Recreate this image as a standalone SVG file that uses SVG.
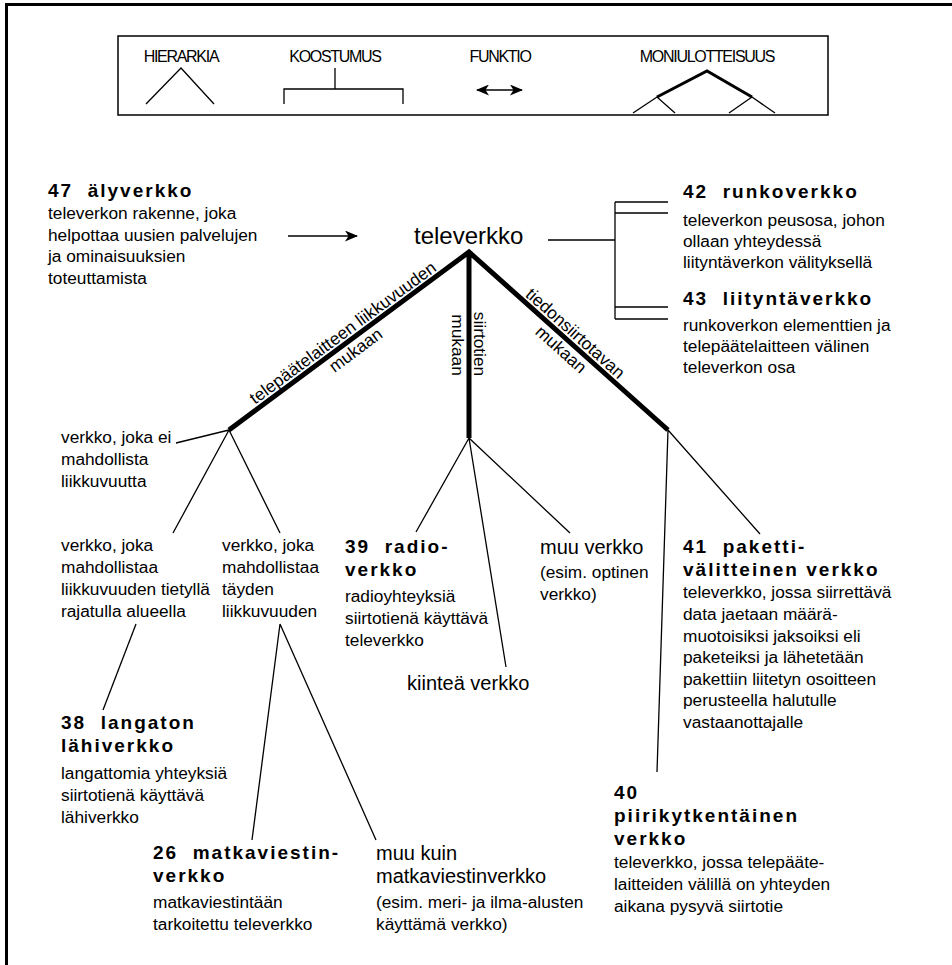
<svg xmlns="http://www.w3.org/2000/svg" width="952" height="965" viewBox="0 0 952 965">
  <style>
    text { font-family: "Liberation Sans", Arial, sans-serif; fill: #000; }
    .b { font-size: 17.3px; }
    .h { font-size: 19px; font-weight: bold; letter-spacing: 2px; white-space: pre; }
    .l { font-size: 20px; }
    .root { font-size: 24px; }
    .lg { font-size: 16px; letter-spacing: -1.3px; text-anchor: middle; }
    .thin { stroke: #000; stroke-width: 1.3; fill: none; }
    .thick { stroke: #000; stroke-width: 5; fill: none; stroke-linejoin: miter; }
    .frame { stroke: #000; stroke-width: 3; fill: none; }
  </style>
  <defs>
    <marker id="head" viewBox="0 0 13 11" refX="12" refY="5.5" markerWidth="13" markerHeight="11" markerUnits="userSpaceOnUse" orient="auto-start-reverse">
      <path d="M0,0 L13,5.5 L0,11 L3.5,5.5 Z" fill="#000"/>
    </marker>
  </defs>

  <rect width="952" height="965" fill="#fff"/>

  <!-- page frame: top and left rules -->
  <path class="frame" d="M6.5,965 L6.5,4.5 L952,4.5"/>

  <!-- legend of relation types -->
  <g id="legend">
    <rect x="118" y="36" width="710" height="79" fill="none" stroke="#000" stroke-width="1.5"/>
    <text class="lg" x="181" y="62">HIERARKIA</text>
    <path class="thin" d="M146,104 L181,68 L214,104"/>
    <text class="lg" x="335" y="62">KOOSTUMUS</text>
    <path class="thin" d="M335,68 L335,89 M284,104 L284,89 L403,89 L403,104"/>
    <text class="lg" x="500" y="62">FUNKTIO</text>
    <line class="thin" x1="477" y1="90" x2="522" y2="90" marker-start="url(#head)" marker-end="url(#head)"/>
    <text class="lg" x="707" y="62">MONIULOTTEISUUS</text>
    <path d="M657,97 L707,71 L752,97" stroke="#000" stroke-width="3" fill="none"/>
    <path class="thin" d="M633,113 L657,97 L675,113 M729,113 L752,97 L775,113"/>
  </g>

  <!-- connectors -->
  <g id="connectors">
    <line class="thin" x1="288" y1="236" x2="357" y2="236" marker-end="url(#head)"/>
    <path class="thin" d="M548,240 L615,240 M615,202 L615,319 M615,202 L668,202 M615,213 L668,213 M615,307 L668,307 M615,319 L668,319"/>
    <path class="thick" d="M229,430 L469,252 L668,430 M469,252 L469,438"/>
    <path class="thin" d="M229,430 L176,443 M229,430 L173,533 M229,430 L280,533"/>
    <path class="thin" d="M136,624 L103,710"/>
    <path class="thin" d="M280,624 L252,840 M280,624 L376,840"/>
    <path class="thin" d="M469,438 L416,532 M469,438 L506,667 M469,438 L570,533"/>
    <path class="thin" d="M668,430 L657,772 M668,430 L760,534"/>
    <!-- criteria along the main branches -->
    <text class="b" text-anchor="middle" transform="translate(346.3,337.4) rotate(-36.45)">telepäätelaitteen liikkuvuuden</text>
    <text class="b" text-anchor="middle" transform="translate(359.1,354.7) rotate(-36.45)">mukaan</text>
    <text class="b" text-anchor="middle" transform="translate(473.5,344) rotate(90)">siirtotien</text>
    <text class="b" text-anchor="middle" transform="translate(452,345) rotate(90)">mukaan</text>
    <text class="b" text-anchor="middle" transform="translate(571.5,337.6) rotate(41.8)">tiedonsiirtotavan</text>
    <text class="b" text-anchor="middle" transform="translate(557.2,353.7) rotate(41.8)">mukaan</text>
  </g>

  <g id="televerkko">
    <text class="root" x="414" y="244">televerkko</text>
  </g>

  <g id="n47">
    <text class="h" x="48" y="197">47  älyverkko</text>
    <text class="b" x="48" y="219">televerkon rakenne, joka</text>
    <text class="b" x="48" y="241">helpottaa uusien palvelujen</text>
    <text class="b" x="48" y="262">ja ominaisuuksien</text>
    <text class="b" x="48" y="284">toteuttamista</text>
  </g>

  <g id="n42">
    <text class="h" x="683" y="198">42  runkoverkko</text>
    <text class="b" x="683" y="226">televerkon peusosa, johon</text>
    <text class="b" x="683" y="247">ollaan yhteydessä</text>
    <text class="b" x="683" y="268">liityntäverkon välityksellä</text>
  </g>

  <g id="n43">
    <text class="h" x="683" y="305">43  liityntäverkko</text>
    <text class="b" x="683" y="331">runkoverkon elementtien ja</text>
    <text class="b" x="683" y="352">telepäätelaitteen välinen</text>
    <text class="b" x="683" y="373">televerkon osa</text>
  </g>

  <g id="ei-liikkuvuutta">
    <text class="b" x="61" y="443">verkko, joka ei</text>
    <text class="b" x="61" y="465">mahdollista</text>
    <text class="b" x="61" y="487">liikkuvuutta</text>
  </g>

  <g id="rajattu-liikkuvuus">
    <text class="b" x="61" y="551">verkko, joka</text>
    <text class="b" x="61" y="573">mahdollistaa</text>
    <text class="b" x="61" y="595">liikkuvuuden tietyllä</text>
    <text class="b" x="61" y="617">rajatulla alueella</text>
  </g>

  <g id="taysi-liikkuvuus">
    <text class="b" x="222" y="551">verkko, joka</text>
    <text class="b" x="222" y="573">mahdollistaa</text>
    <text class="b" x="222" y="595">täyden</text>
    <text class="b" x="222" y="617">liikkuvuuden</text>
  </g>

  <g id="n39">
    <text class="h" x="345" y="553">39  radio-</text>
    <text class="h" x="345" y="576">verkko</text>
    <text class="b" x="345" y="602">radioyhteyksiä</text>
    <text class="b" x="345" y="624">siirtotienä käyttävä</text>
    <text class="b" x="345" y="646">televerkko</text>
  </g>

  <g id="muu-verkko">
    <text class="l" x="540" y="554">muu verkko</text>
    <text class="b" x="540" y="578">(esim. optinen</text>
    <text class="b" x="540" y="600">verkko)</text>
  </g>

  <g id="kiintea-verkko">
    <text class="l" x="407" y="690">kiinteä verkko</text>
  </g>

  <g id="n41">
    <text class="h" x="683" y="553">41  paketti-</text>
    <text class="h" x="683" y="576">välitteinen verkko</text>
    <text class="b" x="683" y="598">televerkko, jossa siirrettävä</text>
    <text class="b" x="683" y="620">data jaetaan määrä-</text>
    <text class="b" x="683" y="642">muotoisiksi jaksoiksi eli</text>
    <text class="b" x="683" y="663">paketeiksi ja lähetetään</text>
    <text class="b" x="683" y="685">pakettiin liitetyn osoitteen</text>
    <text class="b" x="683" y="706">perusteella halutulle</text>
    <text class="b" x="683" y="728">vastaanottajalle</text>
  </g>

  <g id="n38">
    <text class="h" x="61" y="729">38  langaton</text>
    <text class="h" x="61" y="752">lähiverkko</text>
    <text class="b" x="61" y="779">langattomia yhteyksiä</text>
    <text class="b" x="61" y="801">siirtotienä käyttävä</text>
    <text class="b" x="61" y="823">lähiverkko</text>
  </g>

  <g id="n40">
    <text class="h" x="614" y="799">40</text>
    <text class="h" x="614" y="822">piirikytkentäinen</text>
    <text class="h" x="614" y="845">verkko</text>
    <text class="b" x="614" y="868">televerkko, jossa telepääte-</text>
    <text class="b" x="614" y="890">laitteiden välillä on yhteyden</text>
    <text class="b" x="614" y="912">aikana pysyvä siirtotie</text>
  </g>

  <g id="n26">
    <text class="h" x="153" y="859">26  matkaviestin-</text>
    <text class="h" x="153" y="882">verkko</text>
    <text class="b" x="153" y="908">matkaviestintään</text>
    <text class="b" x="153" y="930">tarkoitettu televerkko</text>
  </g>

  <g id="muu-kuin-matkaviestinverkko">
    <text class="l" x="376" y="860">muu kuin</text>
    <text class="l" x="376" y="883">matkaviestinverkko</text>
    <text class="b" x="376" y="908">(esim. meri- ja ilma-alusten</text>
    <text class="b" x="376" y="930">käyttämä verkko)</text>
  </g>
</svg>
